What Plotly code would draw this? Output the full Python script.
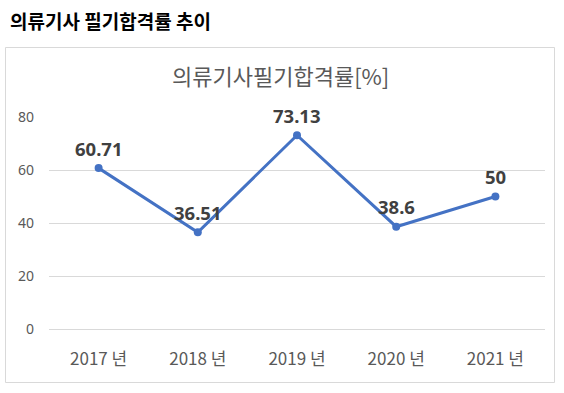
import plotly.graph_objects as go

years = ["2017 년", "2018 년", "2019 년", "2020 년", "2021 년"]
rates = [60.71, 36.51, 73.13, 38.6, 50]
label_text = ["60.71", "36.51", "73.13", "38.6", "50"]
y_ticks = [0, 20, 40, 60, 80]

W, H = 564, 393
L, R, T, B = 49, 19, 117, 64
pw, ph = W - L - R, H - T - B

def px_x(px):
    return (px - L) / pw

def px_y(py):
    return (H - B - py) / ph

FONT = "Noto Sans, Noto Sans CJK KR, sans-serif"
KFONT = "Noto Sans CJK KR, sans-serif"

fig = go.Figure()
fig.add_trace(go.Scatter(
    x=years, y=rates, mode="lines+markers",
    line=dict(color="#4472C4", width=3),
    marker=dict(color="#4472C4", size=8),
    hoverinfo="skip", showlegend=False,
))

annotations = []
for xv, yv, t in zip(years, rates, label_text):
    annotations.append(dict(
        x=xv, y=yv, xref="x", yref="y", text=t, showarrow=False,
        yshift=20, font=dict(family=FONT, size=18.5, color="#404040", weight="bold"),
    ))

annotations.append(dict(
    x=px_x(8), y=px_y(20), xref="paper", yref="paper", xanchor="left", yanchor="middle",
    text="<b>의류기사 필기합격률 추이</b>", showarrow=False,
    font=dict(family=KFONT, size=19, color="#000000"),
))
annotations.append(dict(
    x=px_x(280), y=px_y(75), xref="paper", yref="paper", xanchor="center", yanchor="middle",
    text="의류기사필기합격률[%]", showarrow=False,
    font=dict(family=KFONT, size=22, color="#595959"),
))

fig.update_layout(
    width=W, height=H,
    margin=dict(l=L, r=R, t=T, b=B),
    paper_bgcolor="white", plot_bgcolor="white",
    annotations=annotations,
    shapes=[dict(type="rect", xref="paper", yref="paper",
                 x0=px_x(5.5), x1=px_x(554.5), y0=px_y(47.5), y1=px_y(382.5),
                 line=dict(color="#d9d9d9", width=1), fillcolor="rgba(0,0,0,0)", layer="below")],
    xaxis=dict(showgrid=False, showline=False, zeroline=False, ticks="",
               tickfont=dict(family=KFONT, size=17, color="#595959"),
               ticklabelstandoff=18,
               range=[-0.5, 4.5], fixedrange=True),
    yaxis=dict(range=[0, 80], tickvals=y_ticks, showgrid=True, gridcolor="#d9d9d9",
               gridwidth=1, zeroline=True, zerolinecolor="#d9d9d9", zerolinewidth=1,
               showline=False, ticks="",
               ticklabelstandoff=14,
               tickfont=dict(family=FONT, size=14, color="#595959"), fixedrange=True),
)

fig.write_html("out.html", config={"displayModeBar": False},
               post_script="document.body.style.margin='0';document.body.style.padding='0';")
